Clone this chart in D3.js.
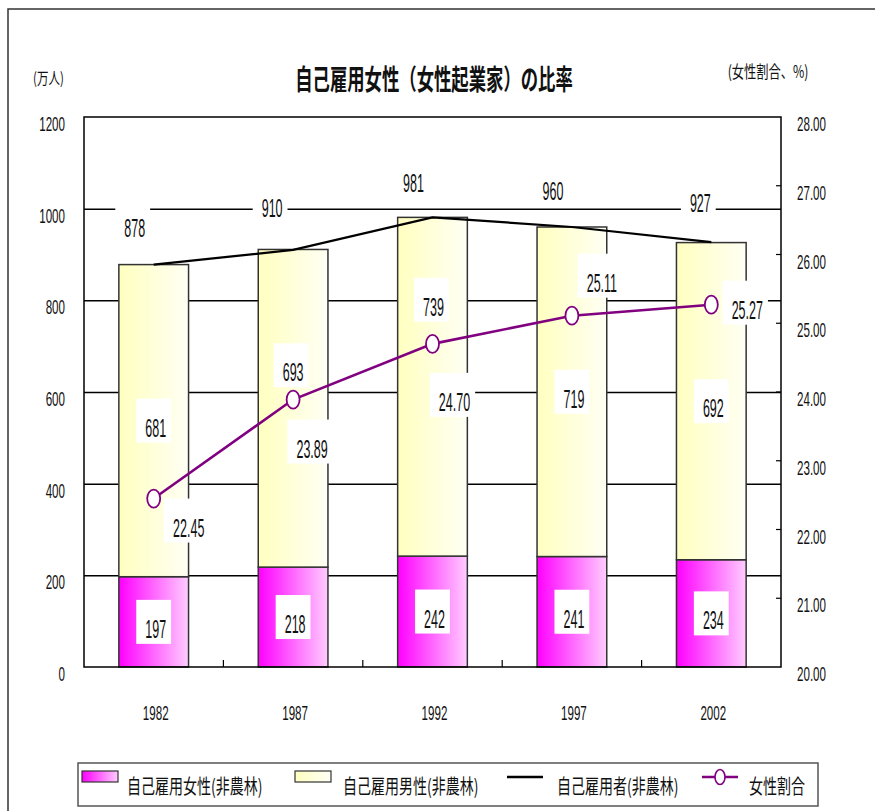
<!DOCTYPE html>
<html>
<head>
<meta charset="utf-8">
<script src="https://cdn.jsdelivr.net/npm/d3@7"></script>
<style>
  body { margin: 0; background: #fff; }
  svg { display: block; }
</style>
</head>
<body>
<svg id="chart" width="875" height="811"></svg>
<script>
// ---- data -------------------------------------------------------------
const years = ["1982", "1987", "1992", "1997", "2002"];
const women = [197, 218, 242, 241, 234];          // 自己雇用女性(非農林), 万人
const men = [681, 693, 739, 719, 692];            // 自己雇用男性(非農林), 万人
const total = [878, 910, 981, 960, 927];          // 自己雇用者(非農林), 万人
const womenShare = [22.45, 23.89, 24.70, 25.11, 25.27]; // 女性割合, %
const leftTicks = [0, 200, 400, 600, 800, 1000, 1200];
const gridTicks = [200, 400, 600, 800, 1000];
const rightTicks = [20, 21, 22, 23, 24, 25, 26, 27, 28];
const legendNames = ["自己雇用女性(非農林)", "自己雇用男性(非農林)", "自己雇用者(非農林)", "女性割合"];

// hand-placed data label offsets (box centre relative to its mark, px)
const totalNudge = [[-21, -44], [-23, -49], [-21, -41], [-21, -43], [-13, -46]];
const menNudge = [[0, 0], [-2, -43], [-1, -87], [0, 0], [0, 0]];
const womenNudge = [[0, 0], [0, 0], [0, 0], [0, 0], [0, 0]];
const shareNudge = [[33, 22], [17, 42], [20, 51], [28, -40], [34, -2]];

// ---- layout -------------------------------------------------------------
const plot = { left: 84, right: 781, top: 117, bottom: 667 };
const svg = d3.select("#chart");
const JP = "'Noto Sans CJK JP', 'Noto Sans CJK SC', sans-serif";
const NUM = "'Liberation Sans', Arial, sans-serif";
const purple = "#800080";

const x = d3.scaleBand().domain(years).range([plot.left, plot.right])
  .paddingInner(0.5).paddingOuter(0.25);
const y = d3.scaleLinear().domain([0, 1200]).range([plot.bottom, plot.top]);
const y2 = d3.scaleLinear().domain([20, 28]).range([plot.bottom, plot.top]);
const cx = d => x(d) + x.bandwidth() / 2;

// horizontally condensed text helper
function sText(parent, str, px, py, o) {
  return parent.append("text")
    .attr("transform", `translate(${px},${py}) scale(${o.sx},1)`)
    .attr("text-anchor", o.anchor || "middle")
    .style("font-family", o.family || NUM)
    .style("font-size", o.size + "px")
    .style("font-weight", o.weight || "normal")
    .attr("fill", "#111")
    .text(str);
}

// ---- gradients ----------------------------------------------------------
const defs = svg.append("defs");
function grad(id, c0, c1) {
  const g = defs.append("linearGradient").attr("id", id)
    .attr("x1", "0").attr("x2", "1").attr("y1", "0").attr("y2", "0");
  g.append("stop").attr("offset", "0").attr("stop-color", c0);
  g.append("stop").attr("offset", "1").attr("stop-color", c1);
}
grad("gWomen", "#ff00ff", "#ffccff");
grad("gMen", "#ffffc0", "#fffff4");

// ---- outer frame --------------------------------------------------------
svg.append("path").attr("d", "M8,811 V9 H875")
  .attr("fill", "none").attr("stroke", "#333").attr("stroke-width", 1.5);

// ---- grid lines ---------------------------------------------------------
svg.append("g")
  .attr("transform", `translate(${plot.left},0)`)
  .call(d3.axisLeft(y).tickValues(gridTicks).tickSize(-(plot.right - plot.left)).tickFormat(""))
  .call(g => g.select(".domain").remove())
  .call(g => g.selectAll("line").attr("stroke", "#000").attr("stroke-width", 1.5));

// ---- stacked bars -------------------------------------------------------
const rows = years.map((yr, i) => ({ yr, w: women[i], m: men[i] }));
const stack = d3.stack().keys(["w", "m"])(rows);
const fills = { w: "url(#gWomen)", m: "url(#gMen)" };
svg.append("g").selectAll("g").data(stack).join("g")
  .attr("fill", s => fills[s.key])
  .selectAll("rect").data(s => s).join("rect")
  .attr("x", d => x(d.data.yr))
  .attr("width", x.bandwidth())
  .attr("y", d => y(d[1]))
  .attr("height", d => y(d[0]) - y(d[1]))
  .attr("stroke", "#333").attr("stroke-width", 1.5);

// ---- plot frame and ticks -----------------------------------------------
svg.append("rect")
  .attr("x", plot.left).attr("y", plot.top)
  .attr("width", plot.right - plot.left).attr("height", plot.bottom - plot.top)
  .attr("fill", "none").attr("stroke", "#000").attr("stroke-width", 1.5);

// category separators along the bottom
svg.append("g").selectAll("line").data(years.slice(1)).join("line")
  .attr("x1", d => x(d) - x.step() * x.paddingInner() / 2)
  .attr("x2", d => x(d) - x.step() * x.paddingInner() / 2)
  .attr("y1", plot.bottom).attr("y2", plot.bottom - 7)
  .attr("stroke", "#000").attr("stroke-width", 1.2);

// secondary axis inner ticks
svg.append("g").selectAll("line").data(rightTicks.slice(1, -1)).join("line")
  .attr("x1", plot.right - 5).attr("x2", plot.right)
  .attr("y1", d => y2(d)).attr("y2", d => y2(d))
  .attr("stroke", "#000").attr("stroke-width", 1.2);

// ---- axis labels --------------------------------------------------------
const axisFont = { size: 20, sx: 0.58 };
leftTicks.forEach(v => sText(svg, String(v), 65, y(v) + 14, { ...axisFont, anchor: "end" }));
rightTicks.forEach(v => sText(svg, v.toFixed(2), 797, y2(v) + 14, { ...axisFont, anchor: "start" }));
years.forEach(yr => sText(svg, yr, cx(yr) + 2, 720, { ...axisFont }));

sText(svg, "(万人)", 33, 84, { family: JP, size: 16, sx: 0.72, anchor: "start" });
sText(svg, "(女性割合、%)", 768, 78, { family: JP, size: 17, sx: 0.72 });
sText(svg, "自己雇用女性（女性起業家）の比率", 434, 90, { family: JP, size: 28, sx: 0.62, weight: "bold" });

// ---- total line ---------------------------------------------------------
svg.append("path")
  .datum(total)
  .attr("d", d3.line().x((d, i) => cx(years[i])).y(d => y(d)))
  .attr("fill", "none").attr("stroke", "#000").attr("stroke-width", 2.2);

// ---- women share line ---------------------------------------------------
svg.append("path")
  .datum(womenShare)
  .attr("d", d3.line().x((d, i) => cx(years[i])).y(d => y2(d)))
  .attr("fill", "none").attr("stroke", purple).attr("stroke-width", 2.6);
svg.append("g").selectAll("ellipse").data(womenShare).join("ellipse")
  .attr("cx", (d, i) => cx(years[i])).attr("cy", d => y2(d))
  .attr("rx", 6.5).attr("ry", 9)
  .attr("fill", "#fff").attr("stroke", purple).attr("stroke-width", 1.8);

// ---- data labels with white boxes ---------------------------------------
const labelFont = { size: 25, sx: 0.5 };
const labelLayer = svg.append("g");
function boxLabel(str, bx, by) {
  const g = labelLayer.append("g");
  const rect = g.append("rect").attr("fill", "#fff");
  const t = sText(g, str, bx + 2, by + 16, labelFont);
  const w = t.node().getComputedTextLength() * labelFont.sx + 14;
  rect.attr("x", bx - w / 2).attr("y", by - 22).attr("width", w).attr("height", 44);
}
years.forEach((yr, i) => {
  const c = cx(yr);
  boxLabel(String(women[i]), c + womenNudge[i][0], (y(0) + y(women[i])) / 2 + womenNudge[i][1]);
  boxLabel(String(men[i]), c + menNudge[i][0], (y(women[i]) + y(women[i] + men[i])) / 2 + menNudge[i][1]);
  boxLabel(String(total[i]), c + totalNudge[i][0], y(total[i]) + totalNudge[i][1]);
  boxLabel(womenShare[i].toFixed(2), c + shareNudge[i][0], y2(womenShare[i]) + shareNudge[i][1]);
});

// ---- legend -------------------------------------------------------------
const lg = svg.append("g");
lg.append("rect").attr("x", 78).attr("y", 763).attr("width", 740).attr("height", 43)
  .attr("fill", "#fff").attr("stroke", "#555").attr("stroke-width", 1.5);
const legX = [82, 295, 507, 702];
const textX = [127, 343, 557, 749];
lg.append("rect").attr("x", legX[0]).attr("y", 771).attr("width", 36).attr("height", 11)
  .attr("fill", "url(#gWomen)").attr("stroke", "#333").attr("stroke-width", 1.2);
lg.append("rect").attr("x", legX[1]).attr("y", 771).attr("width", 36).attr("height", 11)
  .attr("fill", "url(#gMen)").attr("stroke", "#333").attr("stroke-width", 1.2);
lg.append("line").attr("x1", legX[2]).attr("x2", legX[2] + 36).attr("y1", 777).attr("y2", 777)
  .attr("stroke", "#000").attr("stroke-width", 2.5);
lg.append("line").attr("x1", legX[3]).attr("x2", legX[3] + 36).attr("y1", 777).attr("y2", 777)
  .attr("stroke", purple).attr("stroke-width", 2.5);
lg.append("ellipse").attr("cx", legX[3] + 18).attr("cy", 777).attr("rx", 5).attr("ry", 7.5)
  .attr("fill", "#fff").attr("stroke", purple).attr("stroke-width", 1.6);
legendNames.forEach((n, i) => sText(lg, n, textX[i], 794, { family: JP, size: 20, sx: 0.7, anchor: "start" }));
</script>
</body>
</html>
